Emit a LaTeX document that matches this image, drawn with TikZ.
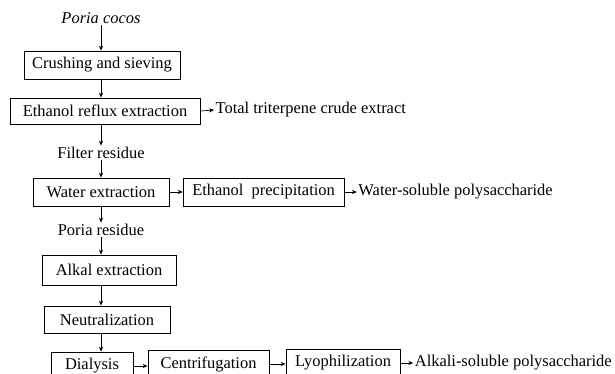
\documentclass[tikz,border=0pt]{standalone}
\usepackage{fontspec}
\setmainfont{Liberation Serif}
\usepackage{tikz}
\usetikzlibrary{arrows.meta}
\usetikzlibrary{positioning}
\tikzset{procbox/.style={draw, line width=0.6pt, minimum height=0.7cm, inner xsep=3pt, font=\fontsize{11.7}{14}\selectfont}}
\tikzset{plainlabel/.style={inner sep=1pt, font=\fontsize{11.7}{14}\selectfont}}
\tikzset{arr/.style={-{Stealth[length=3.5pt,width=3pt]}, line width=0.5pt}}

\begin{document}
\begin{tikzpicture}
\useasboundingbox (0,0) rectangle (15.375, 9.35);

\node[plainlabel] (poria) at (2.525, 8.9) {\textit{Poria cocos}};
\node[procbox, minimum width=3.9cm] (crush) at (2.55, 7.725) {Crushing and sieving};
\node[procbox, minimum width=4.75cm, minimum height=0.65cm] (reflux) at (2.625, 6.575) {Ethanol reflux extraction};
\node[plainlabel, anchor=west] (triterp) at (5.35, 6.6) {Total triterpene crude extract};
\node[plainlabel] (filter) at (2.525, 5.525) {Filter residue};

\node[procbox, minimum width=3.4cm] (water) at (2.525, 4.55) {Water extraction};
\node[procbox, minimum width=4.025cm] (precip) at (6.59, 4.55) {Ethanol~ precipitation};
\node[plainlabel, anchor=west] (wsp) at (8.92, 4.55) {Water-soluble polysaccharide};
\node[plainlabel] (residue) at (2.525, 3.6) {Poria residue};

\node[procbox, minimum width=3.35cm, minimum height=0.75cm] (alkal) at (2.725, 2.6) {Alkal extraction};
\node[procbox, minimum width=3.15cm, minimum height=0.675cm] (neutral) at (2.675, 1.3625) {Neutralization};

\node[procbox, minimum width=2.05cm] (dialysis) at (2.3, 0.2) {Dialysis};
\node[procbox, minimum width=3.025cm] (centri) at (5.2125, 0.25) {Centrifugation};
\node[procbox, minimum width=2.85cm] (lyo) at (8.575, 0.275) {Lyophilization};
\node[plainlabel, anchor=west] (asp) at (10.33, 0.275) {Alkali-soluble polysaccharide};

\draw[arr] (poria) -- (poria |- crush.north);
\draw[arr] (crush.south -| poria) -- (poria |- reflux.north);
\draw[arr] (reflux.east) -- (triterp.west);
\draw[arr] (reflux.south -| poria) -- (filter.north);
\draw[arr] (filter) -- (filter |- water.north);
\draw[arr] (water.east) -- (precip.west);
\draw[arr] (precip.east) -- (wsp.west);
\draw[arr] (water.south -| residue) -- (residue.north);
\draw[arr] (residue) -- (residue |- alkal.north);
\draw[arr] (alkal.south -| residue) -- (residue |- neutral.north);
\draw[arr] (neutral.south -| residue) -- (residue |- dialysis.north);
\draw[arr] (dialysis.east) -- (dialysis.east -| centri.west);
\draw[arr] (centri.east) -- (centri.east -| lyo.west);
\draw[arr] (lyo.east) -- (lyo.east -| asp.west);

\end{tikzpicture}
\end{document}
